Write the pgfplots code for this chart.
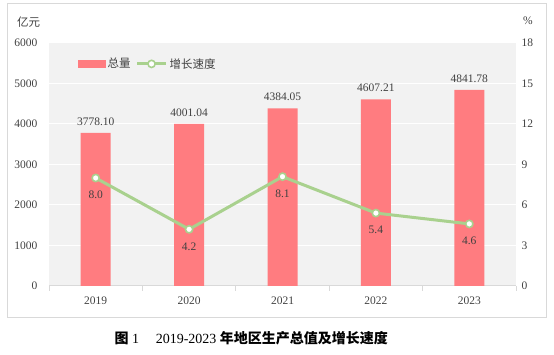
\documentclass[border=0pt]{standalone}
\usepackage{fontspec}
\setmainfont{Liberation Serif}
\newfontfamily\cjk{Noto Sans CJK SC}
\usepackage{pgfplots}
\pgfplotsset{compat=1.18}
\definecolor{barc}{HTML}{FF7C80}
\definecolor{linec}{HTML}{A9D18E}
\definecolor{bgc}{HTML}{F2F2F2}
\definecolor{framec}{HTML}{D9D9D9}
\definecolor{textc}{HTML}{404040}
\newcommand{\fs}{\fontsize{11.5}{13}\selectfont}
\pgfplotsset{mylineleg/.style={legend image code/.code={\draw[mark repeat=2,mark phase=2,##1] plot coordinates {(0pt,0pt) (14.5pt,0pt) (29pt,0pt)};}}}
\begin{document}
\begin{tikzpicture}[x=1pt,y=1pt]
\path[use as bounding box] (0,0) rectangle (554,355);
\draw[framec, line width=1pt] (7,37) rectangle (546,351);
\node[text=textc] at (28.5,333) {\cjk\fs 亿元};
\node[text=textc] at (528,334) {\fs \%};
\node[anchor=west] at (111,17) {\fontsize{14}{16}\selectfont\cjk\bfseries 图\normalfont\fontsize{14}{16}\selectfont\ 1\hspace{1.2em}2019-2023\ \cjk\bfseries 年地区生产总值及增长速度};
\begin{axis}[
  at={(49pt,69pt)}, anchor=south west, scale only axis,
  width=467pt, height=243pt,
  ymin=0, ymax=6000, ytick={0,1000,...,6000},
  xmin=-0.5, xmax=4.5,
  xtick={-0.5,0.5,...,4.5}, x tick label as interval,
  xticklabels={2019,2020,2021,2022,2023},
  axis background/.style={fill=bgc},
  ymajorgrids, grid style={white, line width=1pt},
  axis x line*=bottom, axis y line*=left,
  x axis line style={framec, line width=1pt, -},
  y axis line style={draw=none},
  xtick style={framec, line width=0.8pt},
  ytick style={draw=none},
  tick align=outside, major tick length=5pt,
  /pgf/number format/assume math mode=true,
  /pgf/number format/set thousands separator={},
  yticklabel style={text=textc, font=\fs, xshift=-3pt},
  xticklabel style={text=textc, font=\fs, yshift=-2pt},
  scaled y ticks=false,
  ybar, bar width=30pt,
  point meta=explicit symbolic,
  nodes near coords,
  nodes near coords style={text=textc, font=\fs, anchor=south, yshift=4pt},
  clip=false,
]
\addplot[fill=barc, draw=none] coordinates {
  (0,3778.10) [3778.10]
  (1,4001.04) [4001.04]
  (2,4384.05) [4384.05]
  (3,4607.21) [4607.21]
  (4,4841.78) [4841.78]
};
\end{axis}
\begin{axis}[
  at={(49pt,69pt)}, anchor=south west, scale only axis,
  width=467pt, height=243pt,
  ymin=0, ymax=18, ytick={0,3,...,18},
  xmin=-0.5, xmax=4.5,
  axis x line=none, axis y line*=right,
  y axis line style={draw=none},
  ytick style={draw=none},
  /pgf/number format/assume math mode=true,
  yticklabel style={text=textc, font=\fs, xshift=2pt},
  point meta=explicit symbolic,
  nodes near coords,
  nodes near coords style={text=textc, font=\fs, anchor=north, yshift=-9pt},
  clip=false,
  legend style={at={(rel axis cs:0.062,0.914)}, anchor=west, draw=none, fill=none,
    font=\cjk\fs, text=textc, legend columns=2,
    /tikz/every even column/.style={column sep=3pt},
    inner sep=0pt, nodes={inner sep=2pt}},
  legend cell align=left,
]
\addlegendimage{legend image code/.code={\fill[barc] (0pt,-3.5pt) rectangle (27pt,3.5pt);}}
\addlegendentry{总量}
\addplot[linec, line width=3pt, mark=*, mark size=3.6pt,
  mark options={fill=white, draw=linec, line width=1.6pt}, mylineleg]
  coordinates {
  (0,8.0) [8.0]
  (1,4.2) [4.2]
  (2,8.1) [8.1]
  (3,5.4) [5.4]
  (4,4.6) [4.6]
};
\addlegendentry{增长速度}
\end{axis}
\end{tikzpicture}
\end{document}
